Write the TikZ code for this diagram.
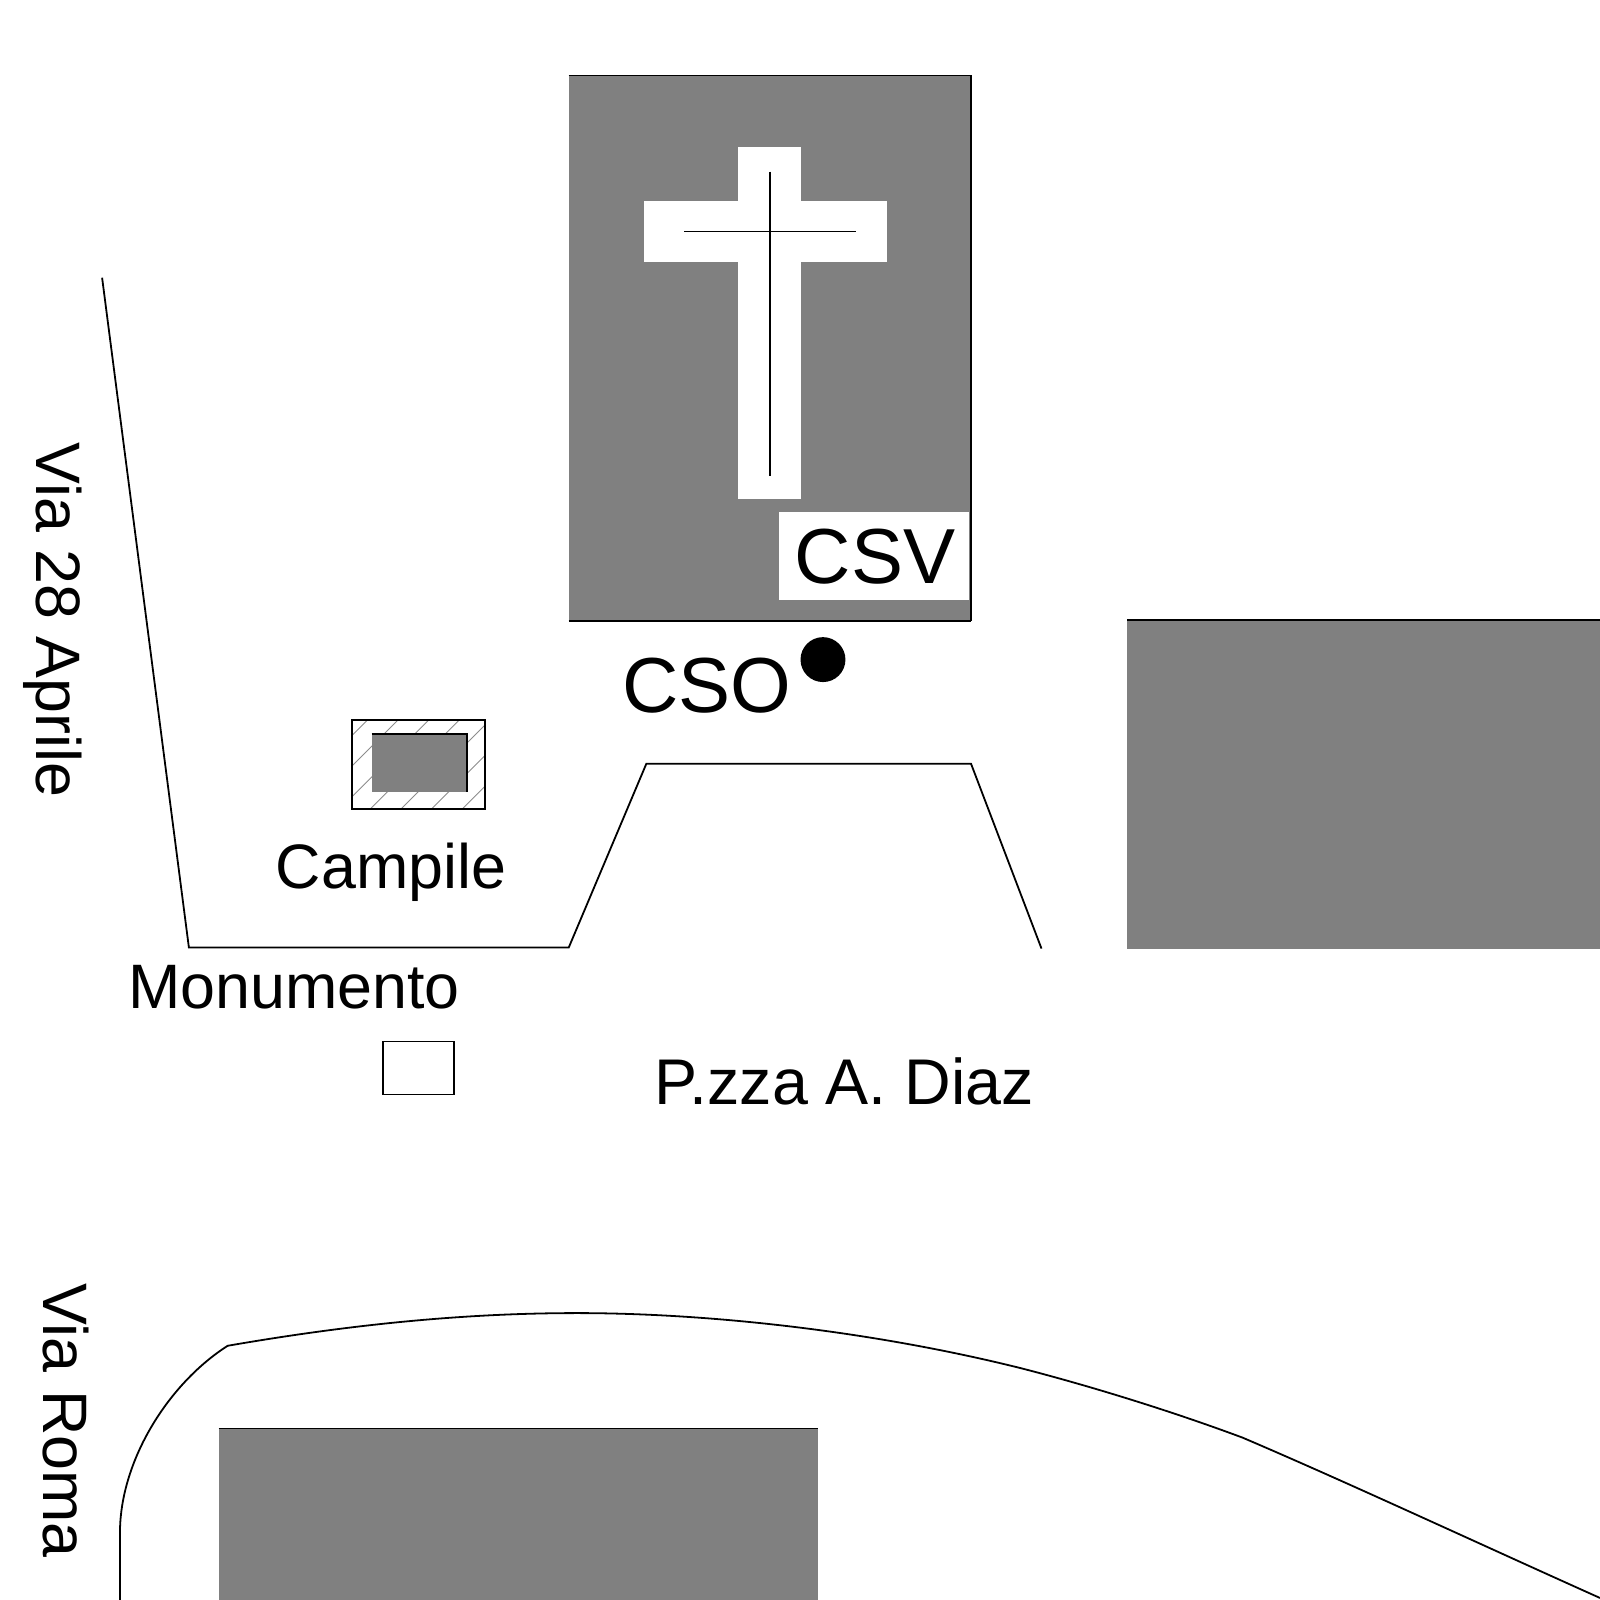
\documentclass[tikz,border=0pt]{standalone}
\usepackage{fontspec}
\setmainfont{Liberation Sans}
\definecolor{blockgrey}{HTML}{808080}
\begin{document}
\begin{tikzpicture}[x=0.02cm,y=-0.02cm,
  outline/.style={draw=black,line width=1pt,line join=miter},
  thinline/.style={draw=black,line width=0.8pt},
  block/.style={fill=blockgrey},
  edge/.style={draw=black,line width=1pt},
  hatchline/.style={draw=black!45,line width=0.5pt},
  smalllabel/.style={inner sep=0pt,font=\fontsize{35}{40}\selectfont},
  biglabel/.style={inner sep=0pt,font=\fontsize{43.5}{50}\selectfont}]
\useasboundingbox (0,0) rectangle (1567,1567);
% church
\fill[block] (557,74) rectangle (951,608);
\draw[edge] (557,74) -- (951,74) -- (951,608);
\draw[thinline] (557,608) -- (951,608);
\fill[white] (723,144) rectangle (784,489);
\fill[white] (631,197) rectangle (869,257);
\draw[thinline] (754,168) -- (754,466);
\draw[thinline] (670,227) -- (838,227);
\fill[white] (763,501) rectangle (949,588);
\node[biglabel] (csv) at (857,545) {CSV};
% CSO
\fill[black] (806,646) circle (22);
\node[biglabel] (cso) at (692,671) {CSO};
% right block
\fill[block] (1104,607) rectangle (1567,929);
\draw[thinline] (1104,607) -- (1567,607);
% bottom block
\fill[block] (214,1399) rectangle (801,1567);
\draw[edge] (214,1399) -- (801,1399);
% road edge
\draw[edge] (100,272) -- (185,928) -- (557,928) -- (633,748) -- (951,748) -- (1020,929);
% lower curve
\draw[edge] (117.5,1567) -- (117.5,1500) .. controls (118,1430) and (165,1355) .. (223,1318)
  .. controls (350,1296) and (460,1286) .. (565,1286)
  .. controls (700,1286) and (860,1305) .. (1000,1340)
  .. controls (1070,1358) and (1150,1383) .. (1217,1408)
  .. controls (1320,1452) and (1440,1508) .. (1567,1565);
% campanile
\begin{scope}
\clip (345,705) rectangle (475,792);
\foreach \c in {1065,1095,...,1245}
  \draw[hatchline] (\c-792,792) -- (\c-705,705);
\end{scope}
\draw[outline] (345,705) rectangle (475,792);
\fill[block] (364,719) rectangle (457,776);
\draw[edge] (364,719) -- (457,719) -- (457,776);
% monument
\draw[outline] (375,1020) rectangle (445,1072);
% labels
\node[smalllabel] (campile) at (383,854) {Campile};
\node[smalllabel] (monumento) at (288,967) {Monumento};
\node[smalllabel,font=\fontsize{36}{40}\selectfont] (diaz) at (827,1059) {P.zza A. Diaz};
\node[smalllabel,rotate=-90] (via28) at (52,607) {Via 28 Aprile};
\node[smalllabel,rotate=-90] (viaroma) at (65,1391) {Via Roma};
\end{tikzpicture}
\end{document}
